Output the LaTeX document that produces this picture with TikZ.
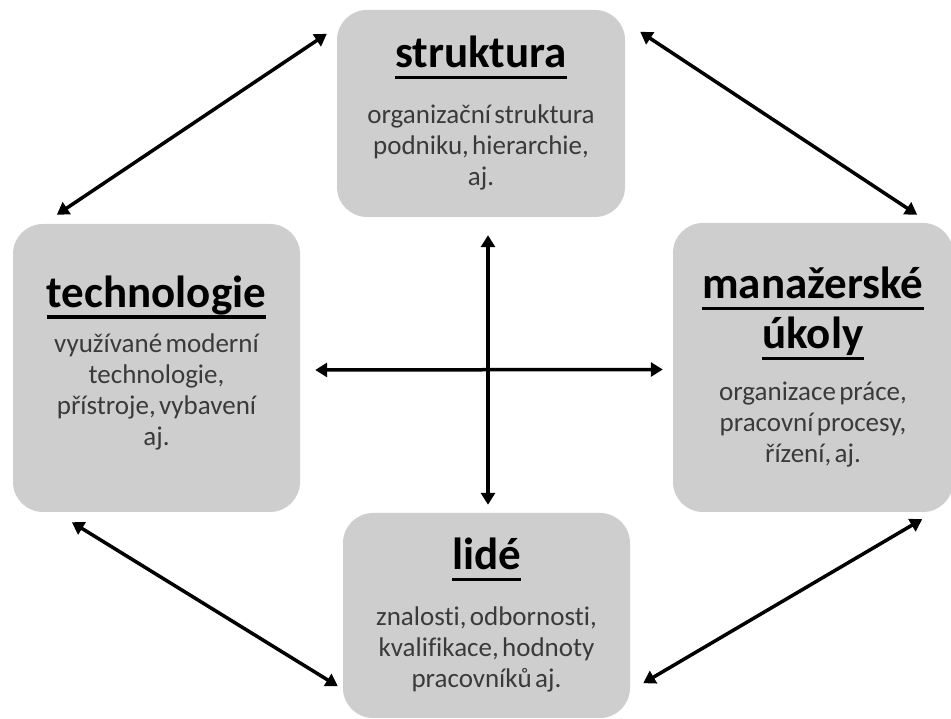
\documentclass[tikz,border=0pt]{standalone}
\usepackage{fontspec}
\setmainfont{Carlito}[Ligatures=NoCommon]
\usetikzlibrary{arrows.meta}

\definecolor{boxgray}{RGB}{207,206,207}
\definecolor{txtgray}{RGB}{58,58,58}

% underlined heading
\newcommand\hdr[1]{\setbox0\hbox{#1}\leavevmode\rlap{\smash{\rule[-11.5pt]{\wd0}{3.5pt}}}\box0}
\newcommand\ttl{\fontsize{45}{50}\selectfont\bfseries}
\newcommand\txt{\fontsize{27}{31}\selectfont\mdseries\color{txtgray}}

\begin{document}
\begin{tikzpicture}[x=1pt, y=1pt,
    box/.style={fill=boxgray, rounded corners=30pt, align=center, text width=270pt, inner sep=0pt},
    dbl/.style={{Triangle[width=14pt,length=12pt]}-{Triangle[width=14pt,length=12pt]}, line width=3.5pt}]

    \useasboundingbox (0,0) rectangle (951,719);

    % four areas
    \node[box, minimum width=288pt, minimum height=207pt] (struk) at (481,605.5)
      {\ttl\hdr{struktura}\par\vspace{25pt}\txt organizační struktura\\podniku, hierarchie,\\aj.\par};
    \node[box, minimum width=287pt, minimum height=288pt] (tech) at (156.5,351)
      {\ttl\hdr{technologie}\par\vspace{14pt}\txt využívané moderní\\technologie,\\přístroje, vybavení\\aj.\par\vspace{10pt}};
    \node[box, minimum width=280pt, minimum height=289pt] (man) at (813,351.5)
      {\ttl\hdr{manažerské}\\\hdr{úkoly}\par\vspace{21pt}\txt organizace práce,\\pracovní procesy,\\řízení, aj.\par};
    \node[box, minimum width=287pt, minimum height=205pt] (lide) at (486.5,103.5)
      {\ttl\hdr{lidé}\par\vspace{25pt}\txt znalosti, odbornosti,\\kvalifikace, hodnoty\\pracovníků aj.\par};

    % links round the outside
    \draw[dbl] ([xshift=44pt,yshift=9pt]tech.north west) -- ([xshift=-10pt,yshift=-24pt]struk.north west);
    \draw[dbl] ([xshift=15pt,yshift=-22pt]struk.north east) -- ([xshift=-36pt,yshift=8pt]man.north east);
    \draw[dbl] ([xshift=59pt,yshift=-10pt]tech.south west) -- ([xshift=-5pt,yshift=32pt]lide.south west);
    \draw[dbl] ([xshift=13pt,yshift=35pt]lide.south east) -- ([xshift=-31pt,yshift=-7pt]man.south east);

    % cross in the middle
    \draw[dbl] ([xshift=15pt,yshift=-2pt]tech.east) -- ([xshift=-10pt,yshift=-2pt]man.west);
    \draw[dbl] ([xshift=7pt,yshift=-18pt]struk.south) -- ([xshift=1.5pt,yshift=8pt]lide.north);

\end{tikzpicture}
\end{document}
